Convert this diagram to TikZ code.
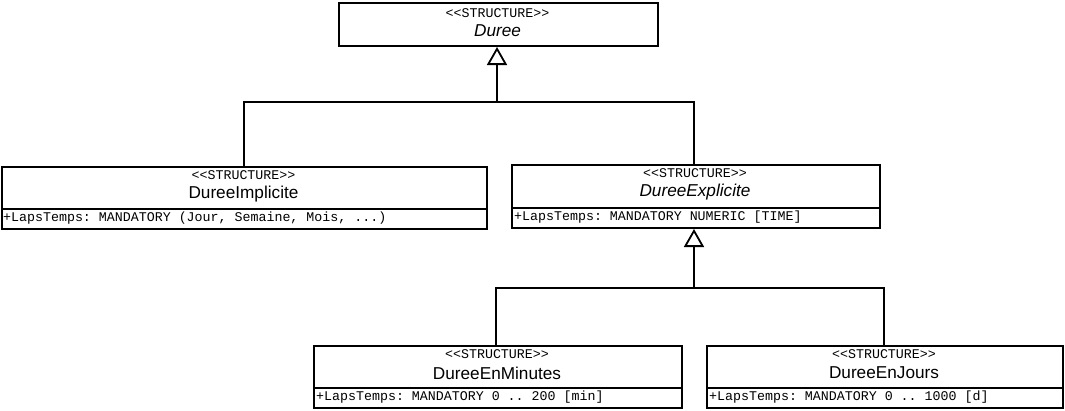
\documentclass[tikz,border=0pt]{standalone}
\usepackage{fontspec}
\setmainfont{Liberation Sans}
\setmonofont{Liberation Mono}
\usetikzlibrary{arrows.meta}
\tikzset{
  classbox/.style={draw, line width=2pt, inner sep=0pt, anchor=north west},
  stereo/.style={font=\ttfamily\fontsize{13.3}{14}\selectfont, inner sep=0pt},
  cname/.style={font=\fontsize{17.2}{18}\selectfont, inner sep=0pt},
  attr/.style={font=\ttfamily\fontsize{13.3}{14}\selectfont, inner sep=0pt, anchor=west},
  sepline/.style={line width=2pt},
  inherit/.style={line width=2pt, -{Triangle[open, length=18pt, width=20pt, line width=1.8pt]}},
  link/.style={line width=2pt}
}
\begin{document}
\begin{tikzpicture}[x=1pt,y=-1pt]
\useasboundingbox[fill=white] (0,0) rectangle (1065,410);

% Duree
\node[classbox, minimum width=319pt, minimum height=43pt] (duree) at (338,2) {};
\node[stereo] (dureeSt) at (497.5,13) {<<STRUCTURE>>};
\node[cname] (dureeNm) at (497.5,31) {\itshape Duree};

% DureeImplicite
\node[classbox, minimum width=485pt, minimum height=62pt] (impl) at (1,166) {};
\draw[sepline] (impl.west |- 0,208.5) -- (impl.east |- 0,208.5);
\node[stereo] (implSt) at (243.5,175) {<<STRUCTURE>>};
\node[cname] (implNm) at (243.5,194) {DureeImplicite};
\node[attr] (implAt) at (3,218.5) {+LapsTemps: MANDATORY (Jour, Semaine, Mois, ...)};

% DureeExplicite
\node[classbox, minimum width=368pt, minimum height=63pt] (expl) at (511,164) {};
\draw[sepline] (expl.west |- 0,207.5) -- (expl.east |- 0,207.5);
\node[stereo] (explSt) at (695,173) {<<STRUCTURE>>};
\node[cname] (explNm) at (695,192) {\itshape DureeExplicite};
\node[attr] (explAt) at (514,217) {+LapsTemps: MANDATORY NUMERIC [TIME]};

% DureeEnMinutes
\node[classbox, minimum width=368pt, minimum height=62pt] (mins) at (313,345) {};
\draw[sepline] (mins.west |- 0,387.5) -- (mins.east |- 0,387.5);
\node[stereo] (minsSt) at (497,354) {<<STRUCTURE>>};
\node[cname] (minsNm) at (497,373) {DureeEnMinutes};
\node[attr] (minsAt) at (316,397.5) {+LapsTemps: MANDATORY 0 .. 200 [min]};

% DureeEnJours
\node[classbox, minimum width=356pt, minimum height=62pt] (jours) at (706,345) {};
\draw[sepline] (jours.west |- 0,388) -- (jours.east |- 0,388);
\node[stereo] (joursSt) at (884,354) {<<STRUCTURE>>};
\node[cname] (joursNm) at (884,373) {DureeEnJours};
\node[attr] (joursAt) at (709,397.5) {+LapsTemps: MANDATORY 0 .. 1000 [d]};

% connectors
\coordinate (j1) at (497,101.5);
\draw[link] (impl.north -| 243.5,0) |- (j1) -| (expl.north -| 694,0);
\draw[inherit] (j1) -- (duree.south -| j1);

\coordinate (j2) at (694,287.5);
\draw[link] (mins.north -| 496,0) |- (j2) -| (jours.north -| 884,0);
\draw[inherit] (j2) -- (expl.south -| j2);
\end{tikzpicture}
\end{document}
